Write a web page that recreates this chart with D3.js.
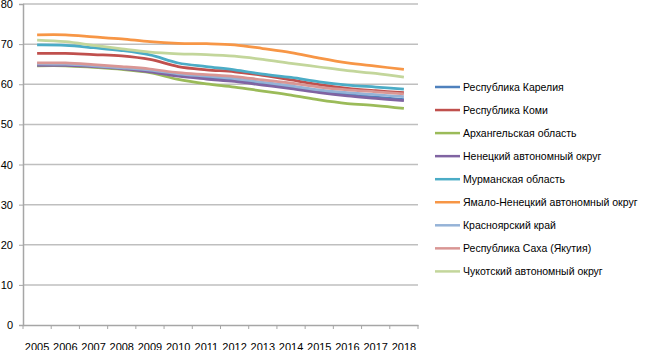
<!DOCTYPE html>
<html>
<head>
<meta charset="utf-8">
<script src="https://cdn.jsdelivr.net/npm/d3@7"></script>
<style>
  body { margin: 0; background: #fff; }
  text { font-family: "Liberation Sans", Arial, sans-serif; fill: #000; }
</style>
</head>
<body>
<svg id="chart" width="645" height="350"></svg>
<script>
const years = [2005, 2006, 2007, 2008, 2009, 2010, 2011, 2012, 2013, 2014, 2015, 2016, 2017, 2018];
const regions = ["Республика Карелия", "Республика Коми", "Архангельская область",
  "Ненецкий автономный округ", "Мурманская область", "Ямало-Ненецкий автономный округ",
  "Красноярский край", "Республика Саха (Якутия)", "Чукотский автономный округ"];
const colors = ["#4f81bd", "#c0504d", "#9bbb59", "#8064a2", "#4bacc6", "#f79646",
  "#95b3d7", "#d99694", "#c3d69b"];

const karelia     = [65.0, 64.9, 64.5, 64.0, 63.3, 62.3, 61.6, 61.0, 60.1, 59.2, 58.2, 57.4, 56.8, 56.2];
const komi        = [67.7, 67.7, 67.4, 67.1, 66.2, 64.4, 63.6, 63.1, 62.2, 61.1, 59.9, 59.0, 58.4, 57.9];
const arkhangelsk = [64.6, 64.6, 64.2, 63.7, 62.9, 61.2, 60.1, 59.3, 58.3, 57.3, 56.1, 55.2, 54.7, 54.0];
const nenets      = [64.7, 64.7, 64.4, 63.9, 63.1, 62.0, 61.3, 60.7, 59.8, 58.9, 57.9, 57.1, 56.5, 55.9];
const murmansk    = [69.8, 69.7, 69.1, 68.4, 67.3, 65.3, 64.4, 63.6, 62.5, 61.7, 60.6, 59.8, 59.3, 58.8];
const yamal       = [72.3, 72.3, 71.8, 71.3, 70.6, 70.2, 70.1, 69.8, 68.9, 67.9, 66.5, 65.3, 64.5, 63.7];
const krasnoyarsk = [65.1, 65.0, 64.6, 64.1, 63.5, 62.6, 62.0, 61.4, 60.5, 59.6, 58.6, 57.9, 57.4, 56.9];
const sakha       = [65.3, 65.3, 64.9, 64.4, 63.8, 62.9, 62.4, 61.9, 61.1, 60.3, 59.3, 58.6, 58.1, 57.6];
const chukotka    = [71.0, 70.6, 69.7, 68.8, 68.0, 67.6, 67.4, 67.0, 66.2, 65.2, 64.3, 63.4, 62.7, 61.8];
const yTicks = [0, 10, 20, 30, 40, 50, 60, 70, 80];

const seriesValues = [karelia, komi, arkhangelsk, nenets, murmansk, yamal, krasnoyarsk, sakha, chukotka];

const plotLeft = 23, plotRight = 418, plotTop = 4, plotBottom = 325;
const svg = d3.select("#chart");

const x = d3.scaleBand().domain(years).range([plotLeft, plotRight]);
const y = d3.scaleLinear().domain([0, 80]).range([plotBottom, plotTop]);

// gridlines
svg.append("g").selectAll("line")
  .data(yTicks.filter(d => d > 0))
  .enter().append("line")
  .attr("x1", plotLeft).attr("x2", plotRight)
  .attr("y1", d => y(d)).attr("y2", d => y(d))
  .attr("stroke", "#bfbfbf").attr("stroke-width", 1.5);

// y axis
let yAxis = svg.append("g")
  .attr("transform", "translate(" + plotLeft + ",0)")
  .call(d3.axisLeft(y).tickValues(yTicks).tickSize(4).tickPadding(6));
yAxis.select(".domain").attr("stroke", "#a6a6a6").attr("stroke-width", 1.5);
yAxis.selectAll(".tick line").attr("stroke", "#a6a6a6");
yAxis.selectAll(".tick text").style("font-size", "11px").style("font-family", "Liberation Sans");

// x axis
let xAxis = svg.append("g")
  .attr("transform", "translate(0," + plotBottom + ")")
  .call(d3.axisBottom(x).tickSize(0).tickPadding(18));
xAxis.select(".domain").attr("stroke", "#a6a6a6").attr("stroke-width", 1.5);
xAxis.selectAll(".tick text").style("font-size", "11px").style("font-family", "Liberation Sans");
xAxis.selectAll(".sep")
  .data(years.concat([null]))
  .enter().append("line")
  .attr("class", "sep")
  .attr("x1", (d, i) => plotLeft + i * x.step()).attr("x2", (d, i) => plotLeft + i * x.step())
  .attr("y1", 0).attr("y2", 4)
  .attr("stroke", "#a6a6a6");

// lines
const line = d3.line()
  .curve(d3.curveCatmullRom.alpha(0.5))
  .x((d, i) => x(years[i]) + x.bandwidth() / 2)
  .y(d => y(d));

svg.append("g").selectAll("path")
  .data(seriesValues)
  .enter().append("path")
  .attr("d", line)
  .attr("fill", "none")
  .attr("stroke", (d, i) => colors[i])
  .attr("stroke-width", 2.75);

// legend
let legend = svg.append("g").selectAll("g")
  .data(regions)
  .enter().append("g")
  .attr("transform", (d, i) => "translate(435," + (87 + i * 23.05) + ")");
legend.append("line")
  .attr("x1", 0).attr("x2", 25)
  .attr("stroke", (d, i) => colors[i])
  .attr("stroke-width", 2.5);
legend.append("text")
  .attr("x", 28).attr("dy", "0.35em")
  .style("font-size", "10.5px")
  .text(d => d);
</script>
</body>
</html>
